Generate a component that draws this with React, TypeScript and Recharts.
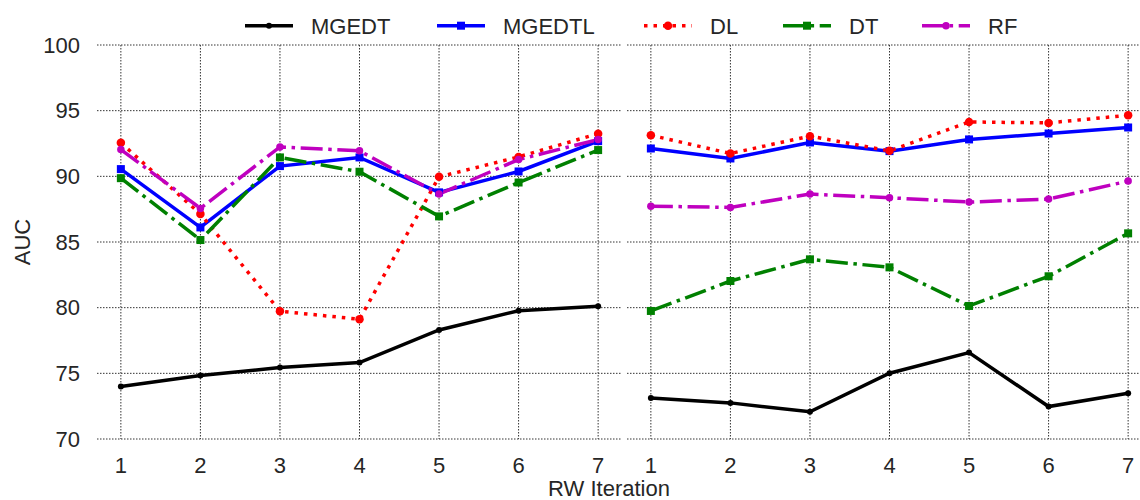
import React from 'react';
import { LineChart, Line, XAxis, YAxis, CartesianGrid } from 'recharts';

// RW iterations on the x axis, AUC on the y axis
const iterations = [1, 2, 3, 4, 5, 6, 7];
const aucTicks = [70, 75, 80, 85, 90, 95, 100];

// left panel
const mgedtLeft = [74.0, 74.83, 75.44, 75.82, 78.3, 79.77, 80.1];
const mgedtlLeft = [90.55, 86.11, 90.78, 91.44, 88.78, 90.37, 92.68];
const dlLeft = [92.55, 87.13, 79.73, 79.12, 89.96, 91.48, 93.25];
const dtLeft = [89.86, 85.15, 91.44, 90.35, 86.95, 89.53, 92.0];
const rfLeft = [92.04, 87.56, 92.24, 91.94, 88.65, 91.28, 92.8];

// right panel
const mgedtRight = [73.13, 72.75, 72.07, 75.01, 76.58, 72.47, 73.49];
const mgedtlRight = [92.12, 91.36, 92.58, 91.92, 92.81, 93.26, 93.72];
const dlRight = [93.13, 91.74, 93.06, 91.94, 94.14, 94.07, 94.65];
const dtRight = [79.75, 82.03, 83.68, 83.07, 80.13, 82.39, 85.66];
const rfRight = [87.73, 87.63, 88.65, 88.37, 88.04, 88.27, 89.64];

const FONT = '"Liberation Sans", Arial, sans-serif';
const TEXT = '#262626';
const LW = 3.5;

type Shape = 'circle' | 'square';
interface SeriesStyle {
  key: string;
  color: string;
  dash?: string;
  shape: Shape;
  size: number;
  legendX: number;
}

const series: SeriesStyle[] = [
  { key: 'MGEDT', color: '#000000', shape: 'circle', size: 6, legendX: 245 },
  { key: 'MGEDTL', color: '#0000ff', shape: 'square', size: 8, legendX: 437 },
  { key: 'DL', color: '#ff0000', dash: '3.5 6', shape: 'circle', size: 8.5, legendX: 644 },
  { key: 'DT', color: '#008000', dash: '22 5.6 3.5 5.6', shape: 'square', size: 8, legendX: 783 },
  { key: 'RF', color: '#bf00bf', dash: '22 5.6 3.5 5.6', shape: 'circle', size: 7.5, legendX: 922 },
];

const buildRows = (cols: Record<string, number[]>) =>
  iterations.map((it, i) => {
    const row: Record<string, number> = { iter: it };
    Object.keys(cols).forEach((k) => (row[k] = cols[k][i]));
    return row;
  });

const leftData = buildRows({ MGEDT: mgedtLeft, MGEDTL: mgedtlLeft, DL: dlLeft, DT: dtLeft, RF: rfLeft });
const rightData = buildRows({ MGEDT: mgedtRight, MGEDTL: mgedtlRight, DL: dlRight, DT: dtRight, RF: rfRight });

const Marker = ({ cx, cy, s }: { cx: number; cy: number; s: SeriesStyle }) =>
  s.shape === 'square' ? (
    <rect x={cx - s.size / 2} y={cy - s.size / 2} width={s.size} height={s.size} fill={s.color} />
  ) : (
    <circle cx={cx} cy={cy} r={s.size / 2} fill={s.color} />
  );

const makeDot = (s: SeriesStyle) => (props: any) => {
  const { cx, cy, index } = props;
  if (cx == null || cy == null) return <g key={index} />;
  return (
    <g key={index}>
      <Marker cx={cx} cy={cy} s={s} />
    </g>
  );
};

const tickStyle = { fontSize: 22, fill: TEXT, fontFamily: FONT };

const Panel = ({ data, showY, width }: { data: Record<string, number>[]; showY: boolean; width: number }) => (
  <LineChart
    width={width}
    height={500}
    data={data}
    margin={{ top: 45, right: 0, bottom: 0, left: showY ? 17 : 0 }}
  >
    <CartesianGrid stroke="#333" strokeDasharray="1.5 1.5" strokeWidth={1} syncWithTicks />
    <XAxis
      dataKey="iter"
      type="number"
      domain={[0.7, 7.3]}
      ticks={iterations}
      interval={0}
      axisLine={false}
      tickLine={false}
      tickMargin={12}
      height={61}
      tick={tickStyle}
    />
    <YAxis
      domain={[70, 100]}
      ticks={aucTicks}
      interval={0}
      hide={!showY}
      width={80}
      axisLine={false}
      tickLine={false}
      tickMargin={11}
      tick={tickStyle}
    />
    {series.map((s) => (
      <Line
        key={s.key}
        dataKey={s.key}
        type="linear"
        stroke={s.color}
        strokeWidth={LW}
        strokeDasharray={s.dash}
        dot={makeDot(s)}
        activeDot={false}
        isAnimationActive={false}
      />
    ))}
  </LineChart>
);

const Overlay = () => (
  <svg width={1140} height={500} style={{ position: 'absolute', left: 0, top: 0, pointerEvents: 'none' }}>
    {series.map((s) => (
      <g key={s.key}>
        <line
          x1={s.legendX}
          x2={s.legendX + 48}
          y1={25.7}
          y2={25.7}
          stroke={s.color}
          strokeWidth={LW}
          strokeDasharray={s.dash}
        />
        <Marker cx={s.legendX + 24} cy={25.7} s={s} />
        <text x={s.legendX + 66} y={33.5} fontSize={22} fill={TEXT} fontFamily={FONT}>
          {s.key}
        </text>
      </g>
    ))}
    <text x={609} y={496} fontSize={22} fill={TEXT} fontFamily={FONT} textAnchor="middle">
      RW Iteration
    </text>
    <text
      x={0}
      y={0}
      fontSize={22}
      fill={TEXT}
      fontFamily={FONT}
      textAnchor="middle"
      transform="translate(30 242) rotate(-90)"
    >
      AUC
    </text>
  </svg>
);

export default function App() {
  return (
    <div
      style={{
        position: 'absolute',
        left: 0,
        top: 0,
        width: 1140,
        height: 500,
        overflow: 'hidden',
        background: '#fff',
        fontFamily: FONT,
      }}
    >
      <div style={{ position: 'absolute', left: 0, top: 0 }}>
        <Panel data={leftData} showY width={622} />
      </div>
      <div style={{ position: 'absolute', left: 627, top: 0 }}>
        <Panel data={rightData} showY={false} width={525} />
      </div>
      <Overlay />
    </div>
  );
}
